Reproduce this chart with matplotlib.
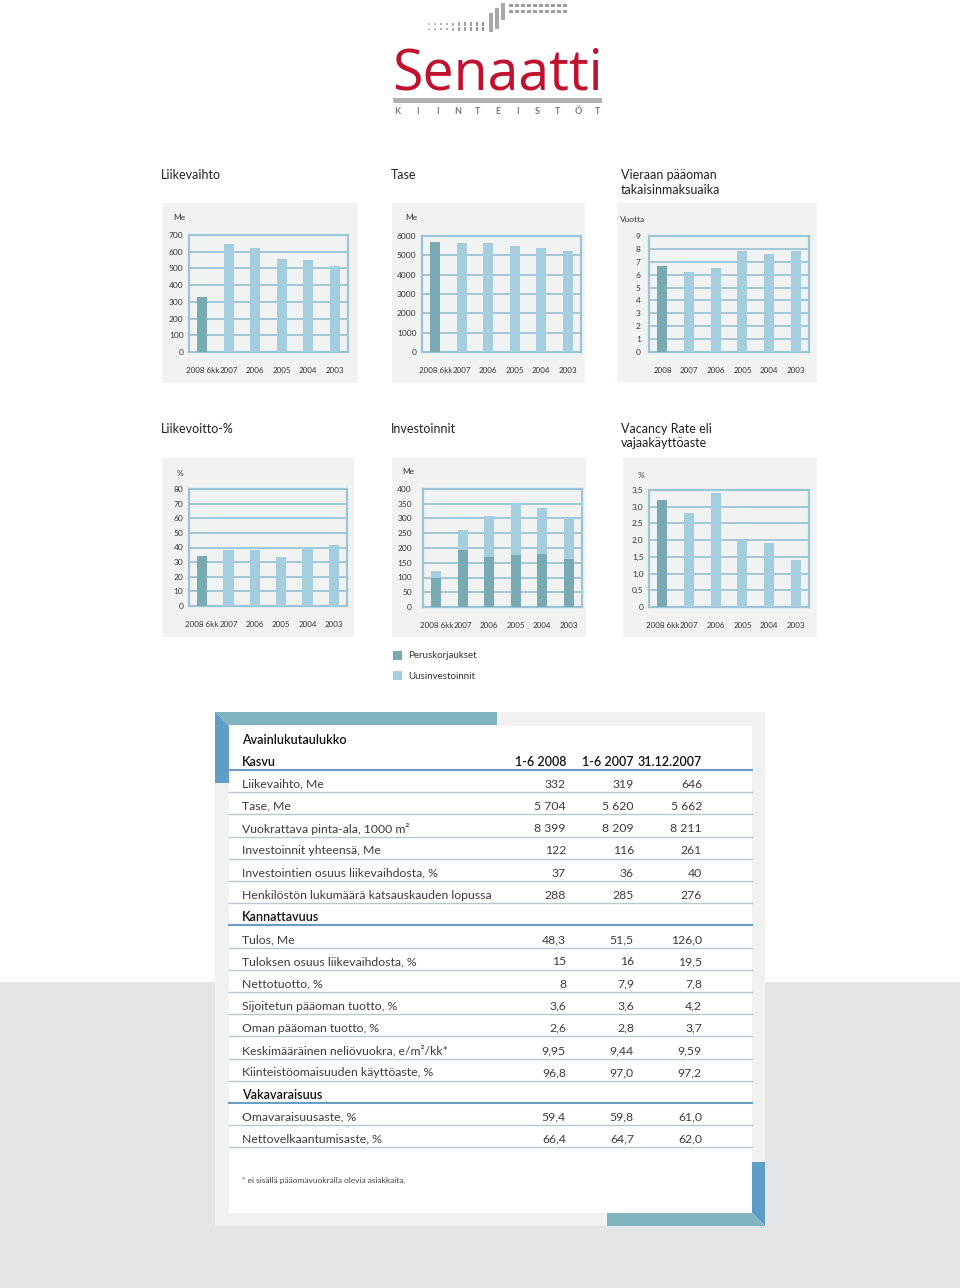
import matplotlib.pyplot as plt
from matplotlib.patches import Rectangle, Polygon
from matplotlib.lines import Line2D
import numpy as np

plt.rcParams["font.family"] = ["Lato", "DejaVu Sans"]

W, H = 960, 1288
DARK = "#79aab4"
LIGHT = "#a5cde0"
FRAME = "#9cc3d6"
PANEL = "#f1f3f3"
TXT = "#333333"

# chart data
years = ["2008 6kk", "2007", "2006", "2005", "2004", "2003"]
years_full = ["2008", "2007", "2006", "2005", "2004", "2003"]
liikevaihto = [332, 646, 624, 558, 548, 512]
tase = [5704, 5662, 5655, 5483, 5362, 5207]
takaisinmaksuaika = [6.7, 6.2, 6.5, 7.8, 7.6, 7.8]
liikevoitto = [34, 38, 38, 33.5, 40, 41.5]
peruskorjaukset = [100, 193, 171, 175, 181, 162]
uusinvestoinnit = [22, 68, 137, 176, 153, 143]
vacancy = [3.2, 2.8, 3.4, 2.0, 1.9, 1.4]

# table data
col_heads = ["1-6 2008", "1-6 2007", "31.12.2007"]
kasvu_rows = ["Liikevaihto, Me", "Tase, Me", "Vuokrattava pinta-ala, 1000 m²",
              "Investoinnit yhteensä, Me", "Investointien osuus liikevaihdosta, %",
              "Henkilöstön lukumäärä katsauskauden lopussa"]
kasvu_vals = [["332", "319", "646"], ["5 704", "5 620", "5 662"],
              ["8 399", "8 209", "8 211"], ["122", "116", "261"],
              ["37", "36", "40"], ["288", "285", "276"]]
kann_rows = ["Tulos, Me", "Tuloksen osuus liikevaihdosta, %", "Nettotuotto, %",
             "Sijoitetun pääoman tuotto, %", "Oman pääoman tuotto, %",
             "Keskimääräinen neliövuokra, e/m²/kk*", "Kiinteistöomaisuuden käyttöaste, %"]
kann_vals = [["48,3", "51,5", "126,0"], ["15", "16", "19,5"], ["8", "7,9", "7,8"],
             ["3,6", "3,6", "4,2"], ["2,6", "2,8", "3,7"], ["9,95", "9,44", "9,59"],
             ["96,8", "97,0", "97,2"]]
vaka_rows = ["Omavaraisuusaste, %", "Nettovelkaantumisaste, %"]
vaka_vals = [["59,4", "59,8", "61,0"], ["66,4", "64,7", "62,0"]]

fig = plt.figure(figsize=(W / 100, H / 100), dpi=100)


def fx(x):
    return x / W


def fy(y):
    return 1 - y / H


def rect(x0, y0, x1, y1, color, z=-2):
    fig.add_artist(Rectangle((fx(x0), fy(y1)), fx(x1) - fx(x0), fy(y0) - fy(y1),
                             transform=fig.transFigure, facecolor=color,
                             edgecolor="none", zorder=z))


def poly(pts, color, z=-1):
    fig.add_artist(Polygon([(fx(a), fy(b)) for a, b in pts], closed=True,
                           transform=fig.transFigure, facecolor=color,
                           edgecolor="none", zorder=z))


def text(x, y, s, **kw):
    kw.setdefault("color", TXT)
    kw.setdefault("va", "center")
    fig.text(fx(x), fy(y), s, **kw)


def hline(x0, x1, y, color, lw):
    fig.add_artist(Line2D([fx(x0), fx(x1)], [fy(y), fy(y)], transform=fig.transFigure,
                          color=color, lw=lw, zorder=2))


# ---- logo ----
logo = fig.text(fx(392), fy(90), "Senaatti", fontsize=44, color="#c0122f",
                family=["Open Sans", "DejaVu Sans"], va="baseline", ha="left")
fig.canvas.draw()
w = logo.get_window_extent().width
logo.set_fontsize(44 * 211 / w)
rect(393, 98, 602, 103, "#b2b2b2", z=1)
for i, ch in enumerate("KIINTEISTÖT"):
    text(397 + i * 20.1, 111, ch, fontsize=6.5, color="#777777", weight="bold", ha="center")
for i in range(10):
    g = 0.55 + 0.02 * (10 - i)
    h = 2 + i * 0.25
    rect(428 + i * 6, 24 - h / 2, 430 + i * 6, 24 + h / 2, (g, g, g), z=1)
    rect(428 + i * 6, 29 - h / 2, 430 + i * 6, 29 + h / 2, (g, g, g), z=1)
    rect(509 + i * 6, 4, 513 + i * 6, 7, (0.62, 0.62, 0.62), z=1)
    rect(509 + i * 6, 10, 513 + i * 6, 13, (0.62, 0.62, 0.62), z=1)
for bx, top, bot in [(489, 13, 32), (495, 8, 29), (501, 3, 20)]:
    rect(bx, top, bx + 4, bot, "#a8a8a8", z=1)


# ---- charts ----
def chart(panel, frame, title, unit, unit_pos, ticks, ticklabels, labels, series, ypad):
    px0, py0, px1, py1 = panel
    rect(px0, py0, px1, py1, PANEL)
    l, r, t, b = frame
    ax = fig.add_axes([fx(l), fy(b), fx(r) - fx(l), fy(t) - fy(b)])
    ax.set_facecolor("none")
    x = np.arange(len(labels))
    bottom = np.zeros(len(labels))
    for vals, cols in series:
        ax.bar(x, vals, width=0.38, bottom=bottom, color=cols, zorder=3)
        bottom = bottom + np.array(vals)
    ax.set_xlim(-0.5, len(labels) - 0.5)
    ax.set_ylim(ticks[0], ticks[-1])
    ax.set_yticks(ticks)
    ax.set_yticklabels(ticklabels)
    ax.set_xticks(x)
    ax.set_xticklabels(labels)
    ax.tick_params(length=0, labelsize=6, labelcolor=TXT)
    ax.tick_params(axis="x", labelsize=5.8)
    ax.tick_params(axis="y", pad=ypad)
    ax.tick_params(axis="x", pad=11)
    ax.yaxis.grid(True, color=FRAME, lw=1.3, zorder=1)
    ax.set_axisbelow(True)
    for s in ax.spines.values():
        s.set_color(FRAME)
        s.set_linewidth(1.6)
    for i, line in enumerate(title):
        text(px0 - 1 if px0 < 600 else 621, (175 if py0 < 300 else 429) + i * 14.5, line,
             fontsize=9, color="#222222")
    text(unit_pos[0], unit_pos[1], unit, fontsize=6, ha="center")
    return ax


first_dark = lambda n: [DARK] + [LIGHT] * (n - 1)

chart((162, 203, 358, 383), (189, 348, 235, 352), ["Liikevaihto"], "Me", (179, 217),
      list(range(0, 701, 100)), [str(v) for v in range(0, 701, 100)], years,
      [(liikevaihto, first_dark(6))], 4)
chart((392, 203, 585, 383), (422, 581, 236, 352), ["Tase"], "Me", (411, 217),
      list(range(0, 6001, 1000)), [str(v) for v in range(0, 6001, 1000)], years,
      [(tase, first_dark(6))], 4)
chart((617, 203, 817, 382), (649, 809, 236, 352), ["Vieraan pääoman", "takaisinmaksuaika"],
      "Vuotta", (633, 220), list(range(0, 10)), [str(v) for v in range(0, 10)], years_full,
      [(takaisinmaksuaika, first_dark(6))], 6)
chart((162, 458, 354, 637), (189, 347, 489, 606), ["Liikevoitto-%"], "%", (180, 474),
      list(range(0, 81, 10)), [str(v) for v in range(0, 81, 10)], years,
      [(liikevoitto, first_dark(6))], 4)
chart((392, 458, 586, 637), (423, 582, 489, 607), ["Investoinnit"], "Me", (408, 472),
      list(range(0, 401, 50)), [str(v) for v in range(0, 401, 50)], years,
      [(peruskorjaukset, DARK), (uusinvestoinnit, LIGHT)], 8)
chart((623, 458, 817, 637), (649, 809, 490, 607), ["Vacancy Rate eli", "vajaakäyttöaste"],
      "%", (641, 475), [0, 0.5, 1, 1.5, 2, 2.5, 3, 3.5],
      ["0", "0,5", "1,0", "1,5", "2,0", "2,5", "3,0", "3,5"], years,
      [(vacancy, first_dark(6))], 4)

# legend
rect(393, 651, 402, 660, DARK, z=1)
rect(393, 671, 402, 680, LIGHT, z=1)
text(408, 656, "Peruskorjaukset", fontsize=7)
text(408, 676, "Uusinvestoinnit", fontsize=7)

# ---- key figures table ----
rect(0, 982, 960, 1288, "#e3e5e7", z=-3)
rect(215, 712, 765, 1226, "#f0f2f2", z=-2)
rect(229, 726, 752, 1213, "#ffffff", z=-1)
poly([(215, 712), (497, 712), (497, 725), (228, 725)], "#80b4be")
poly([(215, 712), (229, 726), (229, 783), (215, 783)], "#5f9dc8")
poly([(752, 1162), (765, 1162), (765, 1226), (752, 1213)], "#5f9dc8")
poly([(607, 1213), (752, 1213), (765, 1226), (607, 1226)], "#80b4be")

RIGHTS = [566, 634, 702]
STEP = 22.2
text(242, 740, "Avainlukutaulukko", fontsize=9, weight="semibold", color="#111111")


def heading(y, label, heads=None):
    text(242, y, label, fontsize=9, weight="semibold", color="#111111")
    if heads:
        for rx, h in zip(RIGHTS, heads):
            text(rx, y, h, fontsize=9, weight="semibold", color="#111111", ha="right")
    hline(229, 752, y + 7.5, "#6a9cc4", 1.5)


def row(y, label, vals):
    text(242, y, label, fontsize=8.8, color="#3c3c3c")
    for rx, v in zip(RIGHTS, vals):
        text(rx, y, v, fontsize=8.8, color="#3c3c3c", ha="right")
    hline(229, 752, y + 8, "#b3c8d2", 1.0)


y = 762
heading(y, "Kasvu", col_heads)
for lab, vals in zip(kasvu_rows, kasvu_vals):
    y += STEP
    row(y, lab, vals)
y += STEP
heading(y, "Kannattavuus")
for lab, vals in zip(kann_rows, kann_vals):
    y += STEP
    row(y, lab, vals)
y += STEP
heading(y, "Vakavaraisuus")
for lab, vals in zip(vaka_rows, vaka_vals):
    y += STEP
    row(y, lab, vals)

text(242, 1180, "* ei sisällä pääomavuokralla olevia asiakkaita,", fontsize=6, color="#444444")

fig.savefig("out.png", dpi=100)
